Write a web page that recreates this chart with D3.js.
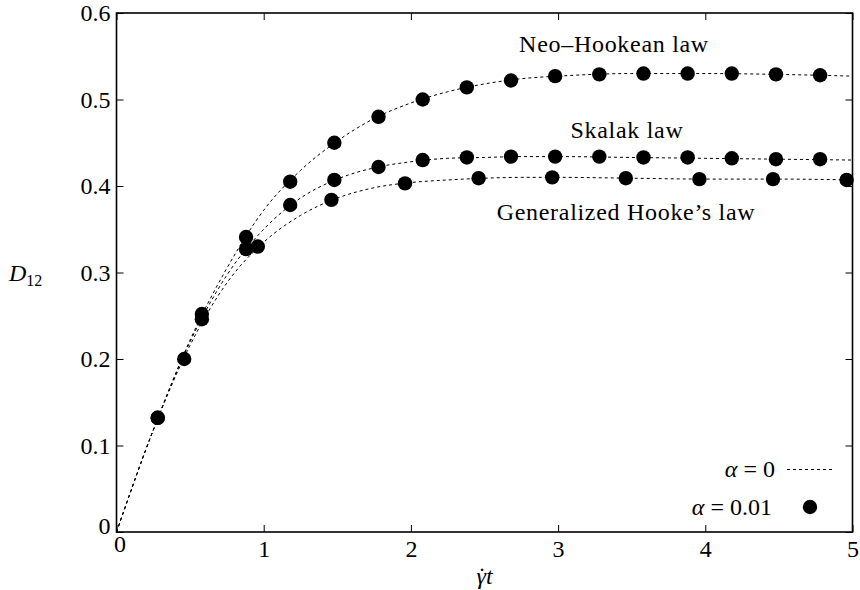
<!DOCTYPE html>
<html>
<head>
<meta charset="utf-8">
<script src="https://cdn.jsdelivr.net/npm/d3@7"></script>
<style>
  body { margin: 0; background: #fff; }
  svg text { font-family: "Liberation Serif", serif !important; fill: #000; }
  .tick text { font-size: 24px; }
</style>
</head>
<body>
<div id="chart"></div>
<script>
// data
var xTicks = [0, 1, 2, 3, 4, 5];
var yTicks = [0, 0.1, 0.2, 0.3, 0.4, 0.5, 0.6];

// alpha = 0 curves (dotted lines)
var curveT = [0, 0.25, 0.5, 0.75, 1, 1.25, 1.5, 1.75, 2, 2.25, 2.5, 2.75, 3, 3.5, 4, 4.5, 5];
var neoCurve = [0, 0.118, 0.222, 0.305, 0.372, 0.418, 0.452, 0.478, 0.496, 0.509, 0.518, 0.524, 0.527, 0.530, 0.530, 0.529, 0.527];
var skalakCurve = [0, 0.118, 0.220, 0.297, 0.350, 0.386, 0.408, 0.421, 0.428, 0.432, 0.433, 0.434, 0.434, 0.433, 0.432, 0.431, 0.430];
var hookeCurve = [0, 0.118, 0.216, 0.288, 0.335, 0.366, 0.386, 0.398, 0.404, 0.407, 0.409, 0.410, 0.410, 0.409, 0.408, 0.408, 0.407];

// alpha = 0.01 points (dots)
var dotT = [0.28, 0.58, 0.88, 1.18, 1.48, 1.78, 2.08, 2.38, 2.68, 2.98, 3.28, 3.58, 3.88, 4.18, 4.48, 4.78];
var neoDots = [0.132, 0.252, 0.341, 0.405, 0.450, 0.480, 0.500, 0.514, 0.522, 0.527, 0.529, 0.530, 0.530, 0.530, 0.529, 0.528];
var skalakDots = [0.132, 0.246, 0.327, 0.378, 0.407, 0.422, 0.430, 0.433, 0.434, 0.434, 0.434, 0.433, 0.433, 0.432, 0.431, 0.431];
var hookeT = [0.46, 0.96, 1.46, 1.96, 2.46, 2.96, 3.46, 3.96, 4.46, 4.96];
var hookeDots = [0.200, 0.330, 0.384, 0.403, 0.409, 0.410, 0.409, 0.408, 0.408, 0.407];

var svgWidth = 860;
var svgHeight = 590;
var margin = { top: 13, right: 7.5, bottom: 58, left: 116.5 };
var width = svgWidth - margin.left - margin.right;
var height = svgHeight - margin.top - margin.bottom;

var svg = d3.select("#chart").append("svg")
  .attr("width", svgWidth)
  .attr("height", svgHeight);

var g = svg.append("g")
  .attr("transform", `translate(${margin.left}, ${margin.top})`);

var x = d3.scaleLinear().domain([0, 5]).range([0, width]);
var y = d3.scaleLinear().domain([0, 0.6]).range([height, 0]);

// axes, ticks pointing inward on all four sides
var fmt = function(d) { return d === 0 ? "0" : d3.format("")(+d.toFixed(1)); };

var bottom = g.append("g")
  .attr("transform", `translate(0, ${height})`)
  .call(d3.axisBottom(x).tickValues(xTicks).tickFormat(fmt).tickSize(-7).tickPadding(8));
var left = g.append("g")
  .call(d3.axisLeft(y).tickValues(yTicks).tickFormat(fmt).tickSize(-7).tickPadding(6));
g.append("g")
  .call(d3.axisTop(x).tickValues(xTicks).tickFormat("").tickSize(-7));
g.append("g")
  .attr("transform", `translate(${width}, 0)`)
  .call(d3.axisRight(y).tickValues(yTicks).tickFormat("").tickSize(-7));

g.selectAll(".domain").remove();
g.selectAll(".tick line").attr("stroke", "#000").attr("stroke-width", 1);

// nudge the two zero labels apart like the original
bottom.selectAll(".tick text").filter(d => d === 0).attr("y", 3).attr("x", 3);
left.selectAll(".tick text").filter(d => d === 0).attr("y", -6);

// frame
g.append("rect")
  .attr("width", width)
  .attr("height", height)
  .attr("fill", "none")
  .attr("stroke", "#000")
  .attr("stroke-width", 1.6);

// dotted curves
var line = d3.line()
  .x(d => x(d[0]))
  .y(d => y(d[1]))
  .curve(d3.curveMonotoneX);

[neoCurve, skalakCurve, hookeCurve].forEach(function(vals) {
  g.append("path")
    .datum(curveT.map((t, i) => [t, vals[i]]))
    .attr("d", line)
    .attr("fill", "none")
    .attr("stroke", "#000")
    .attr("stroke-width", 1)
    .attr("stroke-dasharray", "3,3");
});

// dots
var dotSets = [[dotT, neoDots], [dotT, skalakDots], [hookeT, hookeDots]];
dotSets.forEach(function(s) {
  g.append("g").selectAll("circle")
    .data(s[0].map((t, i) => [t, s[1][i]]))
    .enter()
    .append("circle")
    .attr("cx", d => x(d[0]))
    .attr("cy", d => y(d[1]))
    .attr("r", 7.2)
    .attr("fill", "#000");
});

// curve labels
var labels = [
  { text: "Neo–Hookean law", x: 614, y: 52 },
  { text: "Skalak law", x: 627, y: 138 },
  { text: "Generalized Hooke’s law", x: 626, y: 220 }
];
svg.selectAll("text.lab")
  .data(labels)
  .enter()
  .append("text")
  .attr("class", "lab")
  .attr("x", d => d.x)
  .attr("y", d => d.y)
  .attr("text-anchor", "middle")
  .attr("font-size", 24)
  .attr("letter-spacing", 0.7)
  .text(d => d.text);

// legend
var leg1 = svg.append("text")
  .attr("x", 775).attr("y", 477)
  .attr("text-anchor", "end")
  .attr("font-size", 24);
leg1.append("tspan").attr("font-style", "italic").text("α");
leg1.append("tspan").text(" = 0");
svg.append("line")
  .attr("x1", 787).attr("x2", 833)
  .attr("y1", 469.5).attr("y2", 469.5)
  .attr("stroke", "#000")
  .attr("stroke-dasharray", "3,3");

var leg2 = svg.append("text")
  .attr("x", 772).attr("y", 515)
  .attr("text-anchor", "end")
  .attr("font-size", 24);
leg2.append("tspan").attr("font-style", "italic").text("α");
leg2.append("tspan").text(" = 0.01");
svg.append("circle")
  .attr("cx", 810).attr("cy", 507)
  .attr("r", 7.2)
  .attr("fill", "#000");

// axis titles (gamma-dot t)
var xt = svg.append("text")
  .attr("x", margin.left + width / 2)
  .attr("y", 584)
  .attr("text-anchor", "middle")
  .attr("font-size", 24);
xt.append("tspan").attr("font-style", "italic").text("γ");
xt.append("tspan").attr("dx", -8).text("˙");
xt.append("tspan").attr("font-style", "italic").attr("dx", 0).text("t");

var yt = svg.append("text")
  .attr("x", 9)
  .attr("y", 281)
  .attr("font-size", 24);
yt.append("tspan").attr("font-style", "italic").text("D");
yt.append("tspan").attr("font-size", 16).attr("dy", 5).text("12");
</script>
</body>
</html>
